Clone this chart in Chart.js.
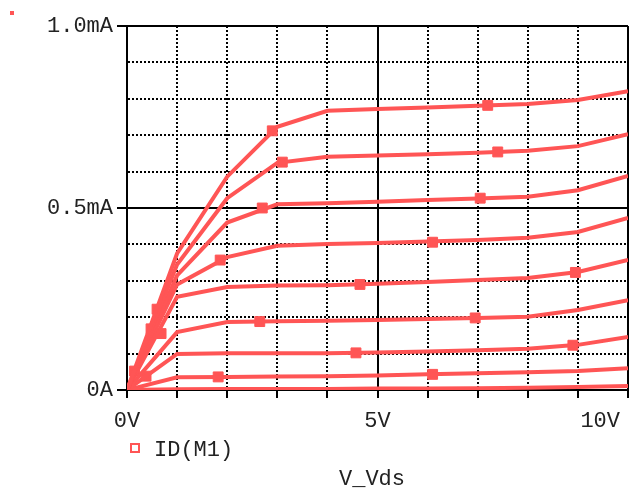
<!DOCTYPE html>
<html>
<head>
    <title>ID(M1) vs V_Vds</title>
    <script src="https://cdn.jsdelivr.net/npm/chart.js"></script>
    <style>
        body { margin: 0; background: #fff; }
        #wrap { position: relative; width: 630px; height: 491px; }
        #dot { position: absolute; left: 10px; top: 11px; width: 4px; height: 4px; background: #ff5555; }
    </style>
</head>
<body>
    <div id="wrap">
        <canvas id="myChart" width="630" height="491"></canvas>
        <div id="dot"></div>
    </div>
    <script>
        // Vds sweep points (V)
        const vds = [0, 1, 2, 3, 4, 5, 6, 7, 8, 9, 10];

        // drain current curves (mA), top to bottom
        const id1 = [0, 0.375, 0.586, 0.723, 0.767, 0.772, 0.776, 0.781, 0.786, 0.797, 0.821];
        const id2 = [0, 0.345, 0.527, 0.624, 0.641, 0.644, 0.648, 0.652, 0.657, 0.670, 0.703];
        const id3 = [0, 0.315, 0.460, 0.510, 0.513, 0.517, 0.522, 0.526, 0.531, 0.549, 0.588];
        const id4 = [0, 0.290, 0.365, 0.396, 0.401, 0.404, 0.408, 0.412, 0.418, 0.434, 0.473];
        const id5 = [0, 0.256, 0.283, 0.287, 0.288, 0.292, 0.297, 0.302, 0.308, 0.324, 0.357];
        const id6 = [0, 0.159, 0.187, 0.189, 0.190, 0.192, 0.195, 0.198, 0.201, 0.220, 0.247];
        const id7 = [0, 0.099, 0.101, 0.101, 0.101, 0.103, 0.106, 0.109, 0.113, 0.124, 0.146];
        const id8 = [0, 0.035, 0.036, 0.037, 0.038, 0.040, 0.043, 0.046, 0.049, 0.052, 0.060];
        const id9 = [0, 0.002, 0.003, 0.003, 0.003, 0.004, 0.004, 0.005, 0.006, 0.008, 0.011];
        const curves = [id1, id2, id3, id4, id5, id6, id7, id8, id9];

        // trace symbols placed along the curves
        const markerVds = [0.6, 2.9, 7.2, 0.48, 3.1, 7.4, 0.15, 2.7, 7.05, 1.86, 6.1,
                           0.68, 4.65, 8.95, 2.65, 6.95, 0.38, 4.57, 8.9, 1.82, 6.1];
        const markerId = [0.222, 0.712, 0.782, 0.168, 0.626, 0.654, 0.052, 0.500, 0.527, 0.357, 0.406,
                          0.155, 0.290, 0.323, 0.188, 0.198, 0.038, 0.102, 0.123, 0.036, 0.043];

        // axis labels
        const xTickValues = [0, 5, 10];
        const xTickLabels = ["0V", "5V", "10V"];
        const yTickValues = [0, 0.5, 1.0];
        const yTickLabels = ["0A", "0.5mA", "1.0mA"];
        const traceName = "ID(M1)";
        const xTitle = "V_Vds";

        const red = "#ff5555";
        const font = "'Liberation Mono', 'Courier New', monospace";

        function isMajor(list, v) {
            return list.some(m => Math.abs(m - v) < 1e-6);
        }

        const datasets = curves.map(c => ({
            type: "line",
            data: vds.map((v, i) => ({ x: v, y: c[i] })),
            borderColor: red,
            borderWidth: 4,
            pointRadius: 0,
            tension: 0,
            fill: false,
        }));
        datasets.push({
            type: "scatter",
            data: markerVds.map((v, i) => ({ x: v, y: markerId[i] })),
            pointStyle: "rect",
            pointRadius: 7,
            backgroundColor: red,
            borderColor: red,
            borderWidth: 1,
        });

        // x tick labels, legend and axis title drawn by hand
        const extras = {
            id: "extras",
            afterDraw(chart) {
                const ctx = chart.ctx;
                const xs = chart.scales.x;
                const area = chart.chartArea;
                ctx.save();
                ctx.font = "22px " + font;
                ctx.fillStyle = "#222";
                ctx.textBaseline = "middle";
                xTickValues.forEach((v, i) => {
                    let px = xs.getPixelForValue(v);
                    const w = ctx.measureText(xTickLabels[i]).width;
                    ctx.textAlign = "center";
                    if (px + w / 2 > chart.width - 10) {
                        ctx.textAlign = "right";
                        px = chart.width - 10;
                    }
                    ctx.fillText(xTickLabels[i], px, area.bottom + 31);
                });
                // legend
                ctx.strokeStyle = red;
                ctx.lineWidth = 2;
                ctx.strokeRect(131, 444, 8, 8);
                ctx.textAlign = "left";
                ctx.fillText(traceName, 154, 450);
                // x title
                ctx.textAlign = "center";
                ctx.fillText(xTitle, 372, 479);
                ctx.restore();
            }
        };

        new Chart(document.getElementById("myChart"), {
            data: { datasets: datasets },
            options: {
                responsive: false,
                animation: false,
                layout: { autoPadding: false, padding: { top: 26, right: 2, left: 0, bottom: 0 } },
                plugins: {
                    legend: { display: false },
                    tooltip: { enabled: false },
                },
                scales: {
                    x: {
                        type: "linear",
                        min: 0,
                        max: 10,
                        afterFit: s => { s.height = 101; s.paddingLeft = 0; s.paddingRight = 0; },
                        ticks: { display: false, stepSize: 1 },
                        grid: {
                            color: "#000",
                            lineWidth: 2,
                            tickLength: 8,
                            tickColor: "#000",
                            tickWidth: 2,
                        },
                        border: {
                            color: "#000",
                            width: 2,
                            dash: c => (c.tick && !isMajor(xTickValues, c.tick.value)) ? [2, 2] : [],
                        },
                    },
                    y: {
                        type: "linear",
                        min: 0,
                        max: 1.0,
                        afterFit: s => { s.width = 127; },
                        ticks: {
                            stepSize: 0.1,
                            padding: 4,
                            color: "#222",
                            font: { family: font, size: 22 },
                            autoSkip: false,
                            maxRotation: 0,
                            callback: v => {
                                const k = yTickValues.findIndex(m => Math.abs(m - v) < 1e-6);
                                return k >= 0 ? yTickLabels[k] : "";
                            },
                        },
                        grid: {
                            color: "#000",
                            lineWidth: 2,
                            tickLength: 10,
                            tickColor: c => isMajor(yTickValues, c.tick.value) ? "#000" : "rgba(0,0,0,0)",
                            tickWidth: 2,
                        },
                        border: {
                            color: "#000",
                            width: 2,
                            dash: c => (c.tick && !isMajor(yTickValues, c.tick.value)) ? [2, 2] : [],
                        },
                    },
                },
            },
            plugins: [extras],
        });
    </script>
</body>
</html>
